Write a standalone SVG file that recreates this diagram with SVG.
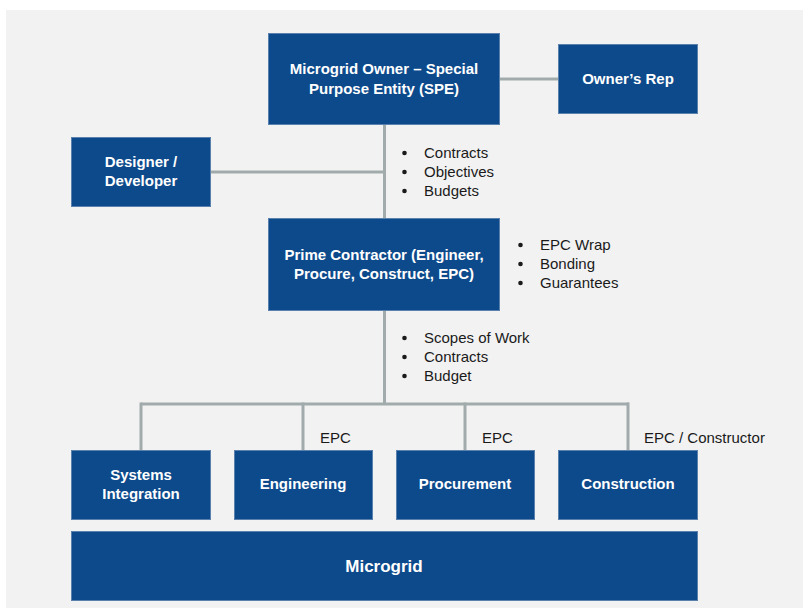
<svg xmlns="http://www.w3.org/2000/svg" width="803" height="611" viewBox="0 0 803 611">
<style>
.box{fill:#0d4a8b;stroke:#5a80ad;stroke-width:1}
.bt{font-family:"Liberation Sans",Arial,sans-serif;font-weight:bold;font-size:15px;fill:#ffffff;text-anchor:middle}
.big{font-size:17px}
.ln{stroke:#a2abab;stroke-width:3;fill:none}
.lb{font-family:"Liberation Sans",Arial,sans-serif;font-size:15px;fill:#1a1a1a}
.dot{fill:#1a1a1a}
</style>
<rect x="6" y="10" width="797" height="598" fill="#f2f2f2"/>
<g id="connectors">
<line class="ln" x1="500" y1="79" x2="558" y2="79"/>
<line class="ln" x1="384.5" y1="125" x2="384.5" y2="218"/>
<line class="ln" x1="210" y1="172" x2="384.5" y2="172"/>
<line class="ln" x1="384.5" y1="311" x2="384.5" y2="404"/>
<line class="ln" x1="141" y1="404" x2="629" y2="404"/>
<line class="ln" x1="141" y1="402.5" x2="141" y2="450"/>
<line class="ln" x1="303" y1="402.5" x2="303" y2="450"/>
<line class="ln" x1="465" y1="402.5" x2="465" y2="450"/>
<line class="ln" x1="628" y1="402.5" x2="628" y2="450"/>
</g>
<g id="owner">
<rect class="box" x="268.5" y="33.5" width="231" height="91"/>
<text class="bt" x="384" y="74">Microgrid Owner – Special</text>
<text class="bt" x="384" y="94">Purpose Entity (SPE)</text>
</g>
<g id="owners-rep">
<rect class="box" x="558.5" y="44.5" width="139" height="69"/>
<text class="bt" x="628" y="84">Owner’s Rep</text>
</g>
<g id="designer">
<rect class="box" x="71.5" y="137.5" width="139" height="69"/>
<text class="bt" x="141" y="167">Designer /</text>
<text class="bt" x="141" y="186">Developer</text>
</g>
<g id="prime">
<rect class="box" x="268.5" y="218.5" width="231" height="92"/>
<text class="bt" x="384" y="260">Prime Contractor (Engineer,</text>
<text class="bt" x="384" y="279">Procure, Construct, EPC)</text>
</g>
<g id="systems">
<rect class="box" x="71.5" y="450.5" width="139" height="69"/>
<text class="bt" x="141" y="480">Systems</text>
<text class="bt" x="141" y="499">Integration</text>
</g>
<g id="engineering">
<rect class="box" x="234.5" y="450.5" width="138" height="69"/>
<text class="bt" x="303" y="489">Engineering</text>
</g>
<g id="procurement">
<rect class="box" x="396.5" y="450.5" width="138" height="69"/>
<text class="bt" x="465" y="489">Procurement</text>
</g>
<g id="construction">
<rect class="box" x="558.5" y="450.5" width="139" height="69"/>
<text class="bt" x="628" y="489">Construction</text>
</g>
<g id="microgrid">
<rect class="box" x="71.5" y="531.5" width="626" height="69"/>
<text class="bt big" x="384" y="572">Microgrid</text>
</g>
<g id="labels">
<circle class="dot" cx="404.5" cy="153" r="2.3"/>
<circle class="dot" cx="404.5" cy="172" r="2.3"/>
<circle class="dot" cx="404.5" cy="191" r="2.3"/>
<text class="lb" x="424" y="157.5">Contracts</text>
<text class="lb" x="424" y="176.5">Objectives</text>
<text class="lb" x="424" y="195.5">Budgets</text>
<circle class="dot" cx="520.5" cy="245" r="2.3"/>
<circle class="dot" cx="520.5" cy="264" r="2.3"/>
<circle class="dot" cx="520.5" cy="283" r="2.3"/>
<text class="lb" x="540" y="249.5">EPC Wrap</text>
<text class="lb" x="540" y="268.5">Bonding</text>
<text class="lb" x="540" y="287.5">Guarantees</text>
<circle class="dot" cx="404.5" cy="338" r="2.3"/>
<circle class="dot" cx="404.5" cy="357" r="2.3"/>
<circle class="dot" cx="404.5" cy="376" r="2.3"/>
<text class="lb" x="424" y="342.5">Scopes of Work</text>
<text class="lb" x="424" y="361.5">Contracts</text>
<text class="lb" x="424" y="380.5">Budget</text>
<text class="lb" x="320" y="443">EPC</text>
<text class="lb" x="482" y="443">EPC</text>
<text class="lb" x="644" y="443">EPC / Constructor</text>
</g>
</svg>
